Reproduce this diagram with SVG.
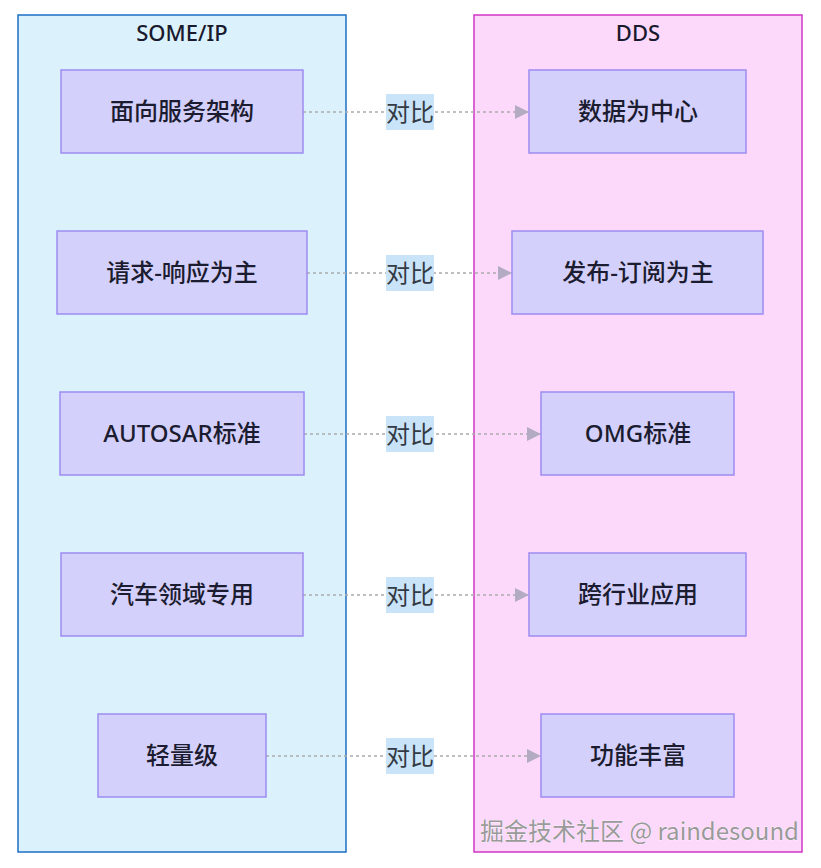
<svg xmlns="http://www.w3.org/2000/svg" width="821" height="868" viewBox="0 0 821 868">
<defs>
<style>
.cl-l{fill:#dbf2fd;stroke:#1d6fc4;stroke-width:1.5}
.cl-r{fill:#fcd9fb;stroke:#d236c4;stroke-width:1.5}
.title{font-family:"Noto Sans","Open Sans","Noto Sans CJK SC",sans-serif;font-size:22px;font-weight:500;fill:#1a1a2e;text-anchor:middle}
.node rect{fill:#d4d0fc;stroke:#9d8cf0;stroke-width:1.5}
.node text{font-family:"Noto Sans","Noto Sans CJK SC",sans-serif;font-size:24px;font-weight:500;fill:#1c1c30;text-anchor:middle;dominant-baseline:central}
.edge{stroke:#aaaaaa;stroke-width:1.5;stroke-dasharray:3 3;fill:none}
.lbl rect{fill:#c9e3f8}
.lbl text{font-family:"Noto Sans CJK SC",sans-serif;font-size:24px;fill:#333a44;text-anchor:middle;dominant-baseline:central}
.wm{font-family:"Noto Sans CJK SC",sans-serif;font-size:24px;fill:#9a9a9a;stroke:#ffffff;stroke-width:0.6;paint-order:stroke}
</style>
<marker id="arr" viewBox="0 0 10 10" refX="10" refY="5" markerWidth="14" markerHeight="14" markerUnits="userSpaceOnUse" orient="auto">
<path d="M0,0 L10,5 L0,10 z" fill="#b3abc2"/>
</marker>
</defs>
<rect width="821" height="868" fill="#ffffff"/>
<g id="cluster-someip">
<rect class="cl-l" x="18" y="15" width="328" height="837"/>
<text class="title" x="182" y="41">SOME/IP</text>
</g>
<g id="cluster-dds">
<rect class="cl-r" x="474" y="15" width="328" height="837"/>
<text class="title" x="638" y="41">DDS</text>
</g>
<g id="connectors">
<line class="edge" x1="303" y1="112" x2="529" y2="112" marker-end="url(#arr)"/>
<line class="edge" x1="307" y1="273" x2="512" y2="273" marker-end="url(#arr)"/>
<line class="edge" x1="304" y1="434" x2="541" y2="434" marker-end="url(#arr)"/>
<line class="edge" x1="303" y1="595" x2="529" y2="595" marker-end="url(#arr)"/>
<line class="edge" x1="266" y1="756" x2="541" y2="756" marker-end="url(#arr)"/>
<g class="lbl"><rect x="386" y="94" width="48" height="36"/><text x="410" y="110">对比</text></g>
<g class="lbl"><rect x="386" y="255" width="48" height="36"/><text x="410" y="271">对比</text></g>
<g class="lbl"><rect x="386" y="416" width="48" height="36"/><text x="410" y="432">对比</text></g>
<g class="lbl"><rect x="386" y="577" width="48" height="36"/><text x="410" y="593">对比</text></g>
<g class="lbl"><rect x="386" y="738" width="48" height="36"/><text x="410" y="754">对比</text></g>
</g>
<g id="n-soa" class="node"><rect x="61" y="70" width="242" height="83"/><text x="182" y="110">面向服务架构</text></g>
<g id="n-rr" class="node"><rect x="57" y="231" width="250" height="83"/><text x="182" y="271">请求-响应为主</text></g>
<g id="n-autosar" class="node"><rect x="60" y="392" width="244" height="83"/><text x="182" y="432">AUTOSAR标准</text></g>
<g id="n-auto" class="node"><rect x="61" y="553" width="242" height="83"/><text x="182" y="593">汽车领域专用</text></g>
<g id="n-light" class="node"><rect x="98" y="714" width="168" height="83"/><text x="182" y="754">轻量级</text></g>
<g id="n-data" class="node"><rect x="529" y="70" width="217" height="83"/><text x="638" y="110">数据为中心</text></g>
<g id="n-ps" class="node"><rect x="512" y="231" width="251" height="83"/><text x="638" y="271">发布-订阅为主</text></g>
<g id="n-omg" class="node"><rect x="541" y="392" width="193" height="83"/><text x="638" y="432">OMG标准</text></g>
<g id="n-cross" class="node"><rect x="529" y="553" width="217" height="83"/><text x="638" y="593">跨行业应用</text></g>
<g id="n-rich" class="node"><rect x="541" y="714" width="193" height="83"/><text x="638" y="754">功能丰富</text></g>
<text class="wm" x="480" y="840">掘金技术社区 @ raindesound</text>
</svg>
